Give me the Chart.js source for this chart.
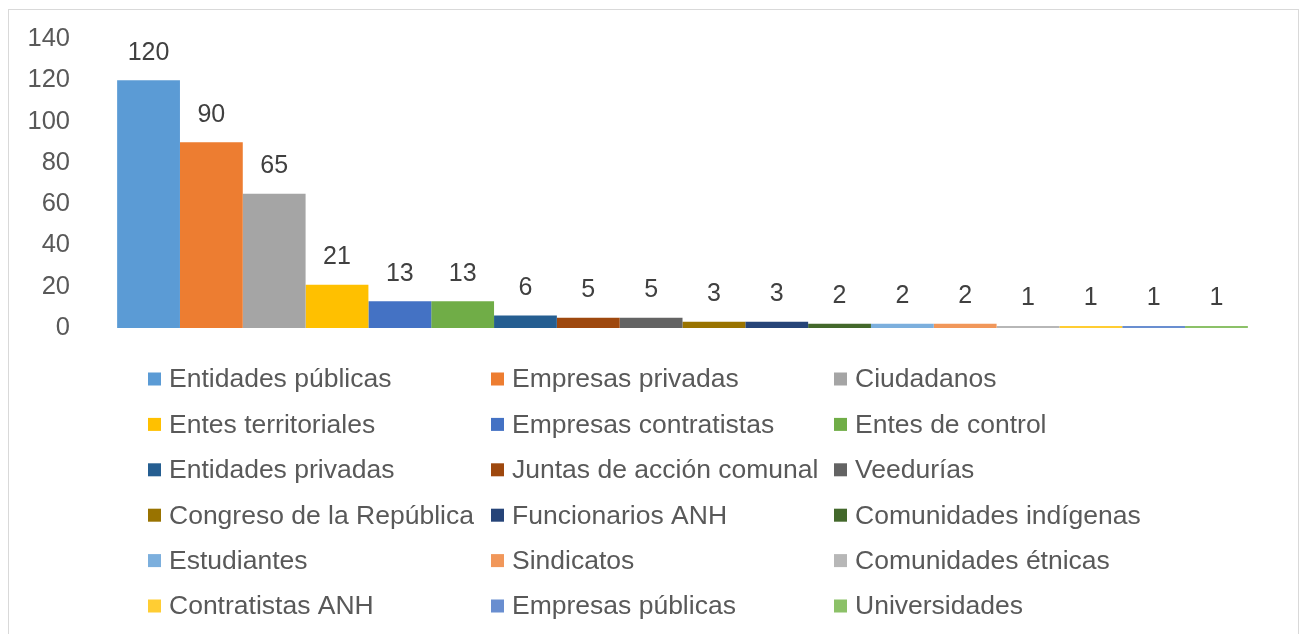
<!DOCTYPE html>
<html>
<head>
<meta charset="utf-8">
<script src="https://cdn.jsdelivr.net/npm/chart.js@4.4.0/dist/chart.umd.min.js"></script>
<style>
  html, body { margin: 0; padding: 0; background: #fff; overflow: hidden; }
  #frame { position: absolute; left: 8px; top: 9px; width: 1289px; height: 700px; border: 1px solid #d9d9d9; }
  #wrap { position: absolute; left: 0; top: 0; width: 1303px; height: 634px; }
</style>
</head>
<body>
<div id="frame"></div>
<div id="wrap"><canvas id="chart" width="1303" height="634"></canvas></div>
<script>
// Stakeholder groups and counts
const groups = [
  "Entidades públicas", "Empresas privadas", "Ciudadanos",
  "Entes territoriales", "Empresas contratistas", "Entes de control",
  "Entidades privadas", "Juntas de acción comunal", "Veedurías",
  "Congreso de la República", "Funcionarios ANH", "Comunidades indígenas",
  "Estudiantes", "Sindicatos", "Comunidades étnicas",
  "Contratistas ANH", "Empresas públicas", "Universidades"
];
const counts = [120, 90, 65, 21, 13, 13, 6, 5, 5, 3, 3, 2, 2, 2, 1, 1, 1, 1];
const colors = [
  "#5B9BD5", "#ED7D31", "#A5A5A5", "#FFC000", "#4472C4", "#70AD47",
  "#255E91", "#9E480E", "#636363", "#997300", "#264478", "#43682B",
  "#7CAFDD", "#F1975A", "#B7B7B7", "#FFCD33", "#698ED0", "#8CC168"
];
const yTicks = [0, 20, 40, 60, 80, 100, 120, 140];

const FONT = '"Liberation Sans", Arial, sans-serif';

// value labels above each bar
const valueLabels = {
  id: "valueLabels",
  afterDatasetsDraw(chart) {
    const ctx = chart.ctx;
    ctx.save();
    ctx.font = "25px " + FONT;
    ctx.fillStyle = "#404040";
    ctx.textAlign = "center";
    ctx.textBaseline = "bottom";
    chart.data.datasets.forEach((ds, i) => {
      const bar = chart.getDatasetMeta(i).data[0];
      ctx.fillText(String(ds.data[0]), bar.x, bar.y - 15);
    });
    ctx.restore();
  }
};

// three-column legend under the bars
const gridLegend = {
  id: "gridLegend",
  afterDraw(chart) {
    const ctx = chart.ctx;
    const colX = [148, 491, 834];
    const rowY0 = 379, rowStep = 45.4;
    ctx.save();
    ctx.font = "26.5px " + FONT;
    ctx.textBaseline = "middle";
    chart.data.datasets.forEach((ds, i) => {
      const x = colX[i % 3];
      const y = rowY0 + Math.floor(i / 3) * rowStep;
      ctx.fillStyle = ds.backgroundColor;
      ctx.fillRect(x, y - 6.5, 13, 13);
      ctx.fillStyle = "#595959";
      ctx.fillText(ds.label, x + 21, y + 1);
    });
    ctx.restore();
  }
};

new Chart(document.getElementById("chart"), {
  type: "bar",
  data: {
    labels: [""],
    datasets: groups.map((g, i) => ({
      label: g,
      data: [counts[i]],
      backgroundColor: colors[i],
      borderWidth: 0,
      barPercentage: 1,
      categoryPercentage: 0.9542
    }))
  },
  options: {
    responsive: false,
    animation: false,
    layout: { padding: { left: 0, right: 28, top: 39, bottom: 306 } },
    plugins: { legend: { display: false }, tooltip: { enabled: false } },
    scales: {
      x: { display: false },
      y: {
        min: 0,
        max: 140,
        afterBuildTicks: axis => { axis.ticks = yTicks.map(v => ({ value: v })); },
        afterFit: axis => { axis.width = 90; },
        grid: { display: false, drawTicks: false },
        border: { display: false },
        ticks: { padding: 20, color: "#595959", font: { size: 25.5, family: FONT } }
      }
    }
  },
  plugins: [valueLabels, gridLegend]
});
</script>
</body>
</html>
